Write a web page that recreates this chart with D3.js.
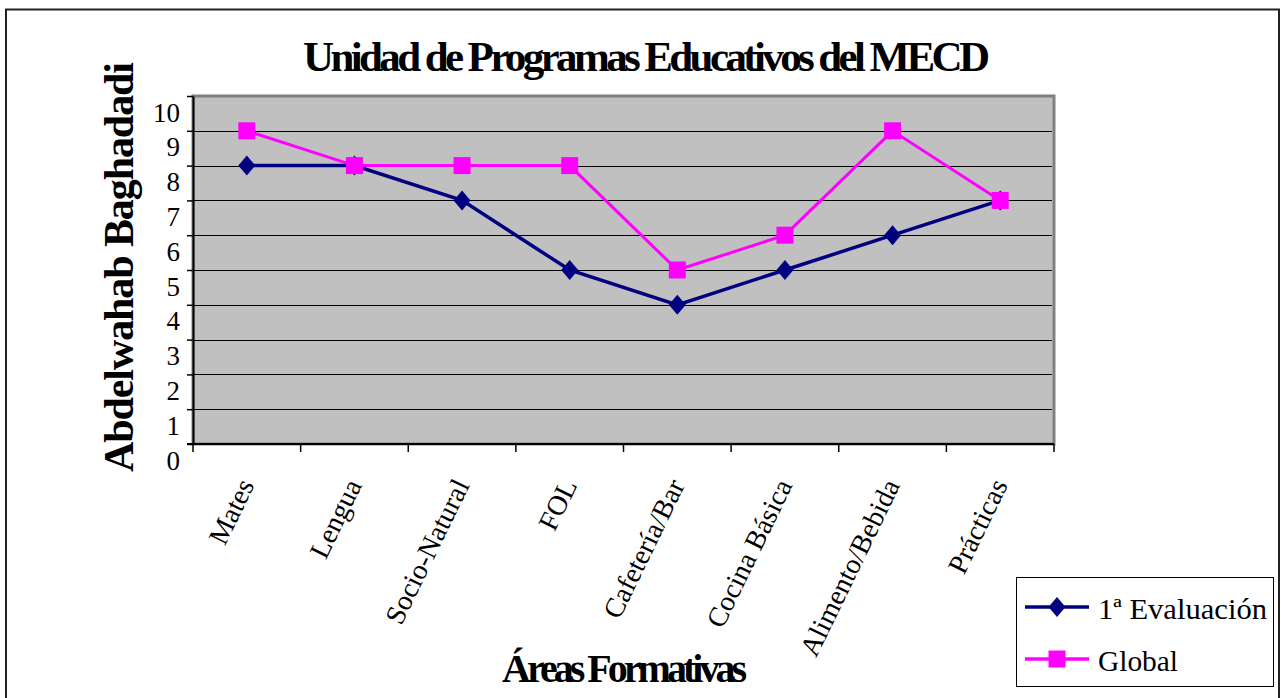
<!DOCTYPE html>
<html>
<head>
<meta charset="utf-8">
<script src="https://cdn.jsdelivr.net/npm/d3@7"></script>
<style>
	body { margin: 0; background: #fff; }
	text { font-family: "Liberation Serif", "Times New Roman", serif; fill: #000; }
</style>
</head>
<body>
<script>
// chart data
var areas = ['Mates', 'Lengua', 'Socio-Natural', 'FOL', 'Cafetería/Bar', 'Cocina Básica', 'Alimento/Bebida', 'Prácticas'];
var evaluacion1 = [8, 8, 7, 5, 4, 5, 6, 7];
var global = [9, 8, 8, 8, 5, 6, 9, 7];
var yTicks = [0, 1, 2, 3, 4, 5, 6, 7, 8, 9, 10];
var seriesNames = ['1ª Evaluación', 'Global'];

var width = 1281,
	height = 698,
	plot = { left: 193, top: 96, right: 1054, bottom: 444 };

var svg = d3.select('body').append('svg')
	.attr('width', width)
	.attr('height', height);

// outer frame
svg.append('rect')
	.attr('x', 6).attr('y', 9.5)
	.attr('width', 1273).attr('height', 700)
	.attr('fill', 'none')
	.attr('stroke', '#222')
	.attr('stroke-width', 2);

var x = d3.scaleBand()
	.domain(areas)
	.range([plot.left, plot.right]);

var y = d3.scaleLinear()
	.domain([0, 10])
	.range([plot.bottom, plot.top]);

// plot area
svg.append('rect')
	.attr('x', plot.left).attr('y', plot.top)
	.attr('width', plot.right - plot.left)
	.attr('height', plot.bottom - plot.top)
	.attr('fill', '#c0c0c0')
	.attr('stroke', '#808080')
	.attr('stroke-width', 3);

// gridlines
svg.selectAll('.grid')
	.data(yTicks.filter(function (d) { return d > 0 && d < 10; }))
	.enter().append('line')
	.attr('class', 'grid')
	.attr('x1', plot.left).attr('x2', plot.right - 2)
	.attr('y1', function (d) { return Math.round(y(d)) + 0.5; })
	.attr('y2', function (d) { return Math.round(y(d)) + 0.5; })
	.attr('stroke', '#000')
	.attr('stroke-width', 1);

// y axis
var yAxis = svg.append('g')
	.attr('transform', 'translate(' + plot.left + ',0)')
	.call(d3.axisLeft(y).tickValues(yTicks).tickSize(6).tickSizeOuter(0));
yAxis.select('.domain').attr('stroke', '#000').attr('stroke-width', 2);
yAxis.selectAll('.tick line').attr('stroke', '#000').attr('stroke-width', 1.5);
yAxis.selectAll('.tick text')
	.attr('x', -13)
	.attr('dy', 25)
	.style('font-family', '"Liberation Serif", "Times New Roman", serif')
	.style('font-size', '27px')
	.attr('fill', '#000');

// x axis - ticks on band boundaries
var xAxis = svg.append('g')
	.attr('transform', 'translate(0,' + plot.bottom + ')');
xAxis.append('line')
	.attr('x1', plot.left - 6).attr('x2', plot.right)
	.attr('y1', 0).attr('y2', 0)
	.attr('stroke', '#000').attr('stroke-width', 2);
xAxis.selectAll('.xtick')
	.data(areas)
	.enter().append('line')
	.attr('class', 'xtick')
	.attr('x1', function (d) { return x(d); })
	.attr('x2', function (d) { return x(d); })
	.attr('y1', 0).attr('y2', 8)
	.attr('stroke', '#000').attr('stroke-width', 1.5);
xAxis.append('line')
	.attr('x1', plot.right).attr('x2', plot.right)
	.attr('y1', 0).attr('y2', 8)
	.attr('stroke', '#000').attr('stroke-width', 1.5);

xAxis.selectAll('.xlabel')
	.data(areas)
	.enter().append('text')
	.attr('class', 'xlabel')
	.attr('text-anchor', 'end')
	.attr('transform', function (d) {
		return 'translate(' + (x(d) + x.bandwidth() / 2 + 8) + ',41) rotate(-64)';
	})
	.style('font-size', '28px')
	.text(function (d) { return d; });

// series lines
var line = d3.line()
	.x(function (d, i) { return x(areas[i]) + x.bandwidth() / 2; })
	.y(function (d) { return y(d); });

svg.append('path')
	.datum(evaluacion1)
	.attr('d', line)
	.attr('fill', 'none')
	.attr('stroke', '#000080')
	.attr('stroke-width', 3.5);

svg.selectAll('.diamond')
	.data(evaluacion1)
	.enter().append('path')
	.attr('class', 'diamond')
	.attr('d', 'M0,-10L8.5,0L0,10L-8.5,0Z')
	.attr('transform', function (d, i) {
		return 'translate(' + (x(areas[i]) + x.bandwidth() / 2) + ',' + y(d) + ')';
	})
	.attr('fill', '#000080');

svg.append('path')
	.datum(global)
	.attr('d', line)
	.attr('fill', 'none')
	.attr('stroke', '#ff00ff')
	.attr('stroke-width', 3);

svg.selectAll('.square')
	.data(global)
	.enter().append('rect')
	.attr('class', 'square')
	.attr('x', function (d, i) { return x(areas[i]) + x.bandwidth() / 2 - 8.5; })
	.attr('y', function (d) { return y(d) - 8.5; })
	.attr('width', 17).attr('height', 17)
	.attr('fill', '#ff00ff');

// titles (letters squeezed together like the original)
svg.append('text')
	.attr('x', 303).attr('y', 71)
	.attr('textLength', 687)
	.attr('lengthAdjust', 'spacing')
	.style('font-size', '43px')
	.style('font-weight', 'bold')
	.text('Unidad de Programas Educativos del MECD');

svg.append('text')
	.attr('transform', 'translate(133,472) rotate(-90)')
	.attr('textLength', 410)
	.attr('lengthAdjust', 'spacing')
	.style('font-size', '42px')
	.style('font-weight', 'bold')
	.text('Abdelwahab Baghadadi');

svg.append('text')
	.attr('x', 502).attr('y', 682)
	.attr('textLength', 245)
	.attr('lengthAdjust', 'spacing')
	.style('font-size', '40px')
	.style('font-weight', 'bold')
	.text('Áreas Formativas');

// legend
var legend = svg.append('g');
legend.append('rect')
	.attr('x', 1016.5).attr('y', 577.5)
	.attr('width', 257).attr('height', 109)
	.attr('fill', '#fff')
	.attr('stroke', '#000')
	.attr('stroke-width', 1);

var legendRows = legend.selectAll('.row')
	.data(seriesNames)
	.enter().append('g')
	.attr('class', 'row')
	.attr('transform', function (d, i) { return 'translate(0,' + (i === 0 ? 607 : 659) + ')'; });

legendRows.append('line')
	.attr('x1', 1025).attr('x2', 1089)
	.attr('y1', 0).attr('y2', 0)
	.attr('stroke', function (d, i) { return i === 0 ? '#000080' : '#ff00ff'; })
	.attr('stroke-width', 3.5);

legendRows.append('path')
	.attr('d', function (d, i) {
		return i === 0 ? 'M1057,-10L1065.5,0L1057,10L1048.5,0Z' : 'M1048.5,-8.5H1065.5V8.5H1048.5Z';
	})
	.attr('fill', function (d, i) { return i === 0 ? '#000080' : '#ff00ff'; });

legendRows.append('text')
	.attr('x', 1098).attr('y', 12)
	.attr('textLength', function (d, i) { return i === 0 ? 169 : 80; })
	.attr('lengthAdjust', 'spacingAndGlyphs')
	.style('font-size', '30px')
	.text(function (d) { return d; });
</script>
</body>
</html>
